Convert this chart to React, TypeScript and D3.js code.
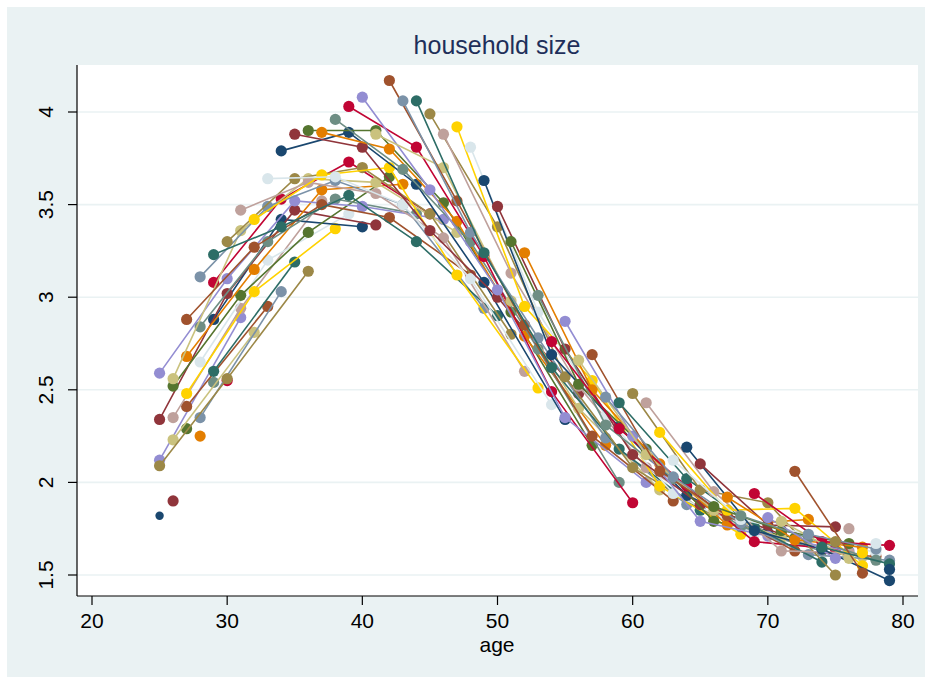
import React from 'react';
import * as d3 from 'd3';

// Ages 25..79 observed in each survey wave
const ages = [25, 26, 27, 28, 29, 30, 31, 32, 33, 34, 35, 36, 37, 38, 39, 40, 41, 42, 43, 44,
  45, 46, 47, 48, 49, 50, 51, 52, 53, 54, 55, 56, 57, 58, 59, 60, 61, 62, 63, 64,
  65, 66, 67, 68, 69, 70, 71, 72, 73, 74, 75, 76, 77, 78, 79];

// years before the last survey wave
const surveyLag = [21, 16, 11, 6, 0];

const wave1 = [2.59, 2.56, 2.88, 3.11, 3.23, 3.30, 3.47, 3.42, 3.64, 3.79, 3.88, 3.90, 3.89, 3.96, 4.03, 4.08, 3.88, 4.17, 4.06, 4.06,
  3.99, 3.88, 3.92, 3.81, 3.63, 3.49, 3.30, 3.24, 3.01, 2.76, 2.87, 2.66, 2.69, 2.46, 2.43, 2.48, 2.43, 2.27, 2.12, 2.19,
  2.10, 1.87, 1.92, 1.82, 1.94, 1.81, 1.79, 2.06, 1.72, 1.65, 1.68, 1.75, 1.62, 1.67, 1.53];
const wave2 = [2.34, 2.52, 2.68, 2.84, 3.08, 3.10, 3.36, 3.27, 3.49, 3.38, 3.64, 3.62, 3.66, 3.65, 3.89, 3.81, 3.90, 3.80, 3.69, 3.81,
  3.58, 3.70, 3.52, 3.35, 3.24, 3.38, 3.13, 2.95, 2.92, 2.69, 2.72, 2.53, 2.50, 2.31, 2.29, 2.25, 2.15, 2.06, 2.03, 2.02,
  1.96, 1.95, 1.85, 1.80, 1.74, 1.77, 1.74, 1.69, 1.70, 1.68, 1.59, 1.59, 1.51, 1.64, 1.56];
const wave3 = [2.09, 2.35, 2.48, 2.65, 2.88, 3.02, 3.01, 3.15, 3.30, 3.53, 3.52, 3.64, 3.50, 3.63, 3.55, 3.70, 3.56, 3.70, 3.50, 3.61,
  3.36, 3.51, 3.41, 3.30, 3.22, 3.04, 2.98, 2.85, 2.78, 2.62, 2.57, 2.52, 2.55, 2.36, 2.30, 2.15, 2.18, 2.10, 2.02, 1.98,
  1.79, 1.85, 1.82, 1.78, 1.76, 1.89, 1.63, 1.86, 1.72, 1.64, 1.76, 1.67, 1.65, 1.58, 1.66];
const wave4 = [2.12, 2.23, 2.41, 2.35, 2.60, 2.56, 2.94, 3.03, 3.20, 3.42, 3.47, 3.35, 3.58, 3.53, 3.73, 3.49, 3.62, 3.43, 3.50, 3.30,
  3.45, 3.32, 3.12, 3.10, 3.08, 3.00, 2.92, 2.79, 2.72, 2.49, 2.35, 2.40, 2.25, 2.24, 2.18, 2.08, 2.08, 1.98, 1.94, 1.93,
  1.88, 1.79, 1.77, 1.76, 1.68, 1.71, 1.70, 1.63, 1.61, 1.57, 1.50, 1.62, 1.55, 1.62, 1.47];
const wave5 = [1.82, 1.90, 2.29, 2.25, 2.54, 2.55, 2.89, 2.81, 2.95, 3.03, 3.19, 3.14, 3.52, 3.37, 3.45, 3.38, 3.39, 3.65, 3.61, 3.45,
  3.45, 3.42, 3.35, 3.12, 2.94, 2.90, 2.80, 2.60, 2.51, 2.42, 2.34, 2.48, 2.20, 2.20, 2.00, 1.89, 2.00, 1.96, 1.90, 1.88,
  1.85, 1.82, 1.80, 1.72, 1.72, 1.73, 1.72, 1.70, 1.80, 1.63, 1.64, 1.63, 1.60, 1.60, 1.58];

const waves = [wave1, wave2, wave3, wave4, wave5];

const xTicks = [20, 30, 40, 50, 60, 70, 80];
const yTicks = [1.5, 2, 2.5, 3, 3.5, 4];

// Stata s2color palette
const palette = ['#1a476f', '#90353b', '#55752f', '#e37e00', '#6e8e84', '#c10534', '#938dd2', '#cac27e',
  '#a0522d', '#7b92a8', '#2d6d66', '#9c8847', '#bfa19c', '#ffd200', '#d9e6eb'];

type Pt = { age: number; v: number };

function buildCohorts(): Pt[][] {
  const minAge = ages[0];
  const maxAge = ages[ages.length - 1];
  const maxK = maxAge - minAge + surveyLag[0];
  const out: Pt[][] = [];
  for (let k = 0; k <= maxK; k++) {
    const pts: Pt[] = [];
    surveyLag.forEach((lag, w) => {
      const age = minAge + k - lag;
      const idx = ages.indexOf(age);
      if (idx >= 0) pts.push({ age, v: waves[w][idx] });
    });
    out.push(pts);
  }
  return out;
}

export default function App() {
  const W = 932, H = 684;
  const plot = { left: 77, right: 918, top: 65, bottom: 596 };
  const x = d3.scaleLinear().domain([20, 80]).range([92, 903]);
  const y = d3.scaleLinear().domain([1.5, 4]).range([575, 112]);
  const cohorts = buildCohorts();
  const line = d3.line<Pt>().x(d => x(d.age)).y(d => y(d.v));
  const font = 'Liberation Sans, Arial, Helvetica, sans-serif';

  return (
    <svg width={W} height={H} style={{ position: 'absolute', left: 0, top: 0, display: 'block' }}
      xmlns="http://www.w3.org/2000/svg">
      <rect x={0} y={0} width={W} height={H} fill="#ffffff" />
      <rect x={7} y={7} width={W - 14} height={H - 14} fill="#eaf2f3" />
      <rect x={plot.left} y={plot.top} width={plot.right - plot.left} height={plot.bottom - plot.top} fill="#ffffff" />
      {yTicks.map(t => (
        <line key={'g' + t} x1={plot.left} x2={plot.right} y1={y(t)} y2={y(t)} stroke="#eaf2f3" strokeWidth={1.6} />
      ))}
      <g>
        {cohorts.map((pts, k) => {
          const c = palette[k % palette.length];
          return (
            <g key={k}>
              {pts.length > 1 && (
                <path d={line(pts) || ''} fill="none" stroke={c} strokeWidth={1.6} />
              )}
              {pts.map((p, i) => (
                <circle key={i} cx={x(p.age)} cy={y(p.v)} r={k === 0 ? 4.2 : 5.6} fill={c} />
              ))}
            </g>
          );
        })}
      </g>
      {/* y axis */}
      <line x1={plot.left} x2={plot.left} y1={plot.top} y2={plot.bottom} stroke="#000" strokeWidth={1.2} />
      {yTicks.map(t => (
        <g key={'y' + t}>
          <line x1={plot.left - 9} x2={plot.left} y1={y(t)} y2={y(t)} stroke="#000" strokeWidth={1.2} />
          <text transform={`translate(53,${y(t)}) rotate(-90)`} textAnchor="middle" fontFamily={font} fontSize={21} fill="#000">
            {String(t)}
          </text>
        </g>
      ))}
      {/* x axis */}
      <line x1={plot.left} x2={plot.right} y1={plot.bottom} y2={plot.bottom} stroke="#000" strokeWidth={1.2} />
      {xTicks.map(t => (
        <g key={'x' + t}>
          <line x1={x(t)} x2={x(t)} y1={plot.bottom} y2={plot.bottom + 9} stroke="#000" strokeWidth={1.2} />
          <text x={x(t)} y={628} textAnchor="middle" fontFamily={font} fontSize={21} fill="#000">{t}</text>
        </g>
      ))}
      <text x={497} y={652} textAnchor="middle" fontFamily={font} fontSize={21} fill="#000">age</text>
      <text x={497} y={54} textAnchor="middle" fontFamily={font} fontSize={25} fill="#1e2f5a">household size</text>
    </svg>
  );
}
